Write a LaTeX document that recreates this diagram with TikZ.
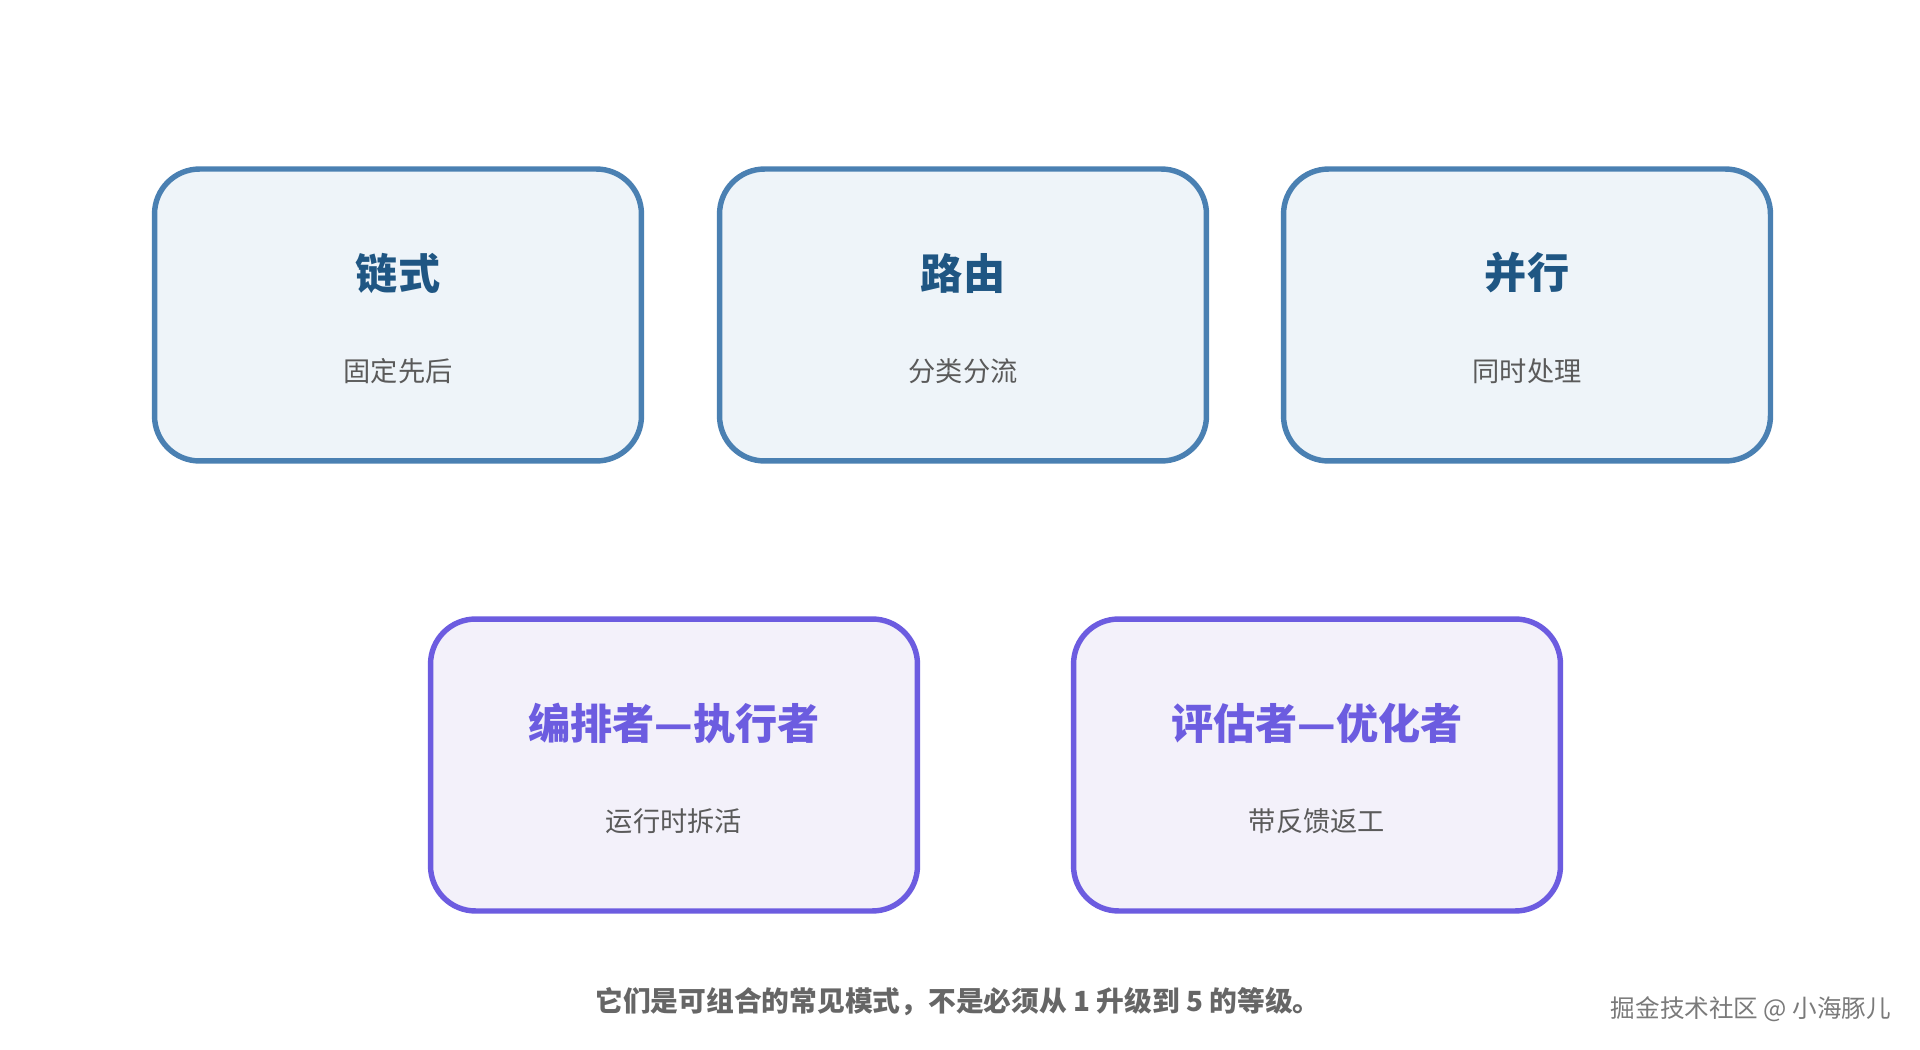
\documentclass[tikz,border=0pt]{standalone}
\usepackage{fontspec}
\setmainfont{Noto Sans CJK SC}
\usepackage{tikz}
\usetikzlibrary{positioning}
\definecolor{blueline}{HTML}{4A80B2}
\definecolor{bluefill}{HTML}{EEF4F9}
\definecolor{bluetext}{HTML}{1F5683}
\definecolor{purpleline}{HTML}{6C5CE0}
\definecolor{purplefill}{HTML}{F3F1FA}
\definecolor{purpletext}{HTML}{6C5CE0}
\definecolor{subgray}{HTML}{5A5A5A}
\definecolor{notegray}{HTML}{666666}
\definecolor{markgray}{HTML}{7A7A7A}
\tikzset{
    card/.style={rectangle, draw, line width=3.1pt, rounded corners=0.9cm, minimum width=9.74cm, minimum height=5.84cm},
    bluecard/.style={card, draw=blueline, fill=bluefill},
    purplecard/.style={card, draw=purpleline, fill=purplefill},
    cardtitle/.style={font=\bfseries\fontsize{24}{28}\selectfont, inner sep=0pt},
    cardsub/.style={font=\fontsize{15.5}{19}\selectfont, text=subgray, inner sep=0pt},
    note/.style={font=\bfseries\fontsize{15.8}{20}\selectfont, text=notegray, inner sep=0pt},
    watermark/.style={font=\fontsize{14}{17}\selectfont, text=markgray, inner sep=0pt}
}

\begin{document}
\begin{tikzpicture}[x=0.02cm, y=-0.02cm]
        \useasboundingbox[fill=white] (0,0) rectangle (1920,1050);

        % Top row
        \node (chain) [bluecard] at (398,315) {};
        \node (chain_title) [cardtitle, text=bluetext] at (398,273) {链式};
        \node (chain_sub) [cardsub] at (398,371) {固定先后};

        \node (route) [bluecard] at (963,315) {};
        \node (route_title) [cardtitle, text=bluetext] at (963,273) {路由};
        \node (route_sub) [cardsub] at (963,371) {分类分流};

        \node (para) [bluecard] at (1527,315) {};
        \node (para_title) [cardtitle, text=bluetext] at (1527,273) {并行};
        \node (para_sub) [cardsub] at (1527,371) {同时处理};

        % Bottom row
        \node (orch) [purplecard] at (674,765) {};
        \node (orch_title) [cardtitle, text=purpletext] at (674,723) {编排者—执行者};
        \node (orch_sub) [cardsub] at (674,821) {运行时拆活};

        \node (eval) [purplecard] at (1317,765) {};
        \node (eval_title) [cardtitle, text=purpletext] at (1317,723) {评估者—优化者};
        \node (eval_sub) [cardsub] at (1317,821) {带反馈返工};

        % Note and watermark
        \node (note) [note] at (958,1002) {它们是可组合的常见模式，不是必须从 1 升级到 5 的等级。};
        \node (wm) [watermark] at (1751,1009) {掘金技术社区 @ 小海豚儿};
    \end{tikzpicture}
\end{document}
